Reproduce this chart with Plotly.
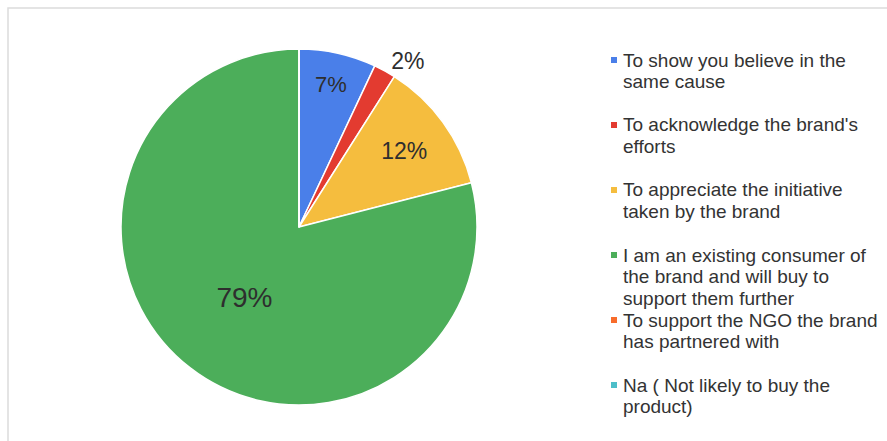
import plotly.graph_objects as go

# Survey answers: reasons for buying from a cause-linked brand
labels = [
    "To show you believe in the<br>same cause",
    "To acknowledge the brand's<br>efforts",
    "To appreciate the initiative<br>taken by the brand",
    "I am an existing consumer of<br>the brand and will buy to<br>support them further",
    "To support the NGO the brand<br>has partnered with",
    "Na ( Not likely to buy the<br>product)",
]
shares = [7, 2, 12, 79, 0, 0]
colors = ["#4a7fe9", "#e33b30", "#f5bd3e", "#4cae5a", "#f86c2b", "#4dbec9"]
label_positions = ["inside", "outside", "inside", "inside", "none", "none"]
label_sizes = [22, 23, 23, 28, 20, 20]

W, H = 887, 441
cx, cy, r = 299, 227, 178
FONT = "Liberation Sans, Arial, Helvetica, sans-serif"
TEXT = "#2e2e2e"

fig = go.Figure()

fig.add_trace(go.Pie(
    values=shares,
    labels=[lab.replace("<br>", " ") for lab in labels],
    sort=False,
    direction="clockwise",
    rotation=0,
    marker=dict(colors=colors, line=dict(color="white", width=1.5)),
    texttemplate="%{percent:.0%}",
    textposition=label_positions,
    insidetextorientation="horizontal",
    textfont=dict(family=FONT, size=label_sizes, color=TEXT),
    showlegend=False,
    hoverinfo="label+percent",
    domain=dict(x=[(cx - r) / W, (cx + r) / W],
                y=[(H - cy - r) / H, (H - cy + r) / H]),
))

# Legend drawn at the right: square swatch + wrapped label lines
leg_top = 60        # centre of the first line of the first entry (px from top)
entry_step = 65     # distance between entries
line_step = 21.5    # distance between wrapped lines
swatch_x = 614
text_x = 621
swatch = 6

annotations = []
shapes = []
for i, (lab, col) in enumerate(zip(labels, colors)):
    y0 = leg_top + i * entry_step
    shapes.append(dict(
        type="rect", xref="paper", yref="paper",
        x0=(swatch_x - swatch / 2) / W, x1=(swatch_x + swatch / 2) / W,
        y0=1 - (y0 + swatch / 2) / H, y1=1 - (y0 - swatch / 2) / H,
        fillcolor=col, line=dict(width=0),
    ))
    for j, line in enumerate(lab.split("<br>")):
        annotations.append(dict(
            xref="paper", yref="paper",
            x=text_x / W, y=1 - (y0 + j * line_step) / H,
            xanchor="left", yanchor="middle",
            text=line, showarrow=False,
            font=dict(family=FONT, size=19, color="#333333"),
        ))

# light frame around the chart area
shapes.append(dict(
    type="rect", xref="paper", yref="paper",
    x0=8 / W, x1=1.02, y0=-0.02, y1=1 - 8 / H,
    line=dict(color="#dcdcdc", width=1.5),
    layer="below",
))

fig.update_layout(
    width=W, height=H,
    margin=dict(l=0, r=0, t=0, b=0),
    paper_bgcolor="white",
    plot_bgcolor="white",
    showlegend=False,
    annotations=annotations,
    shapes=shapes,
)

fig.write_html("out.html")
